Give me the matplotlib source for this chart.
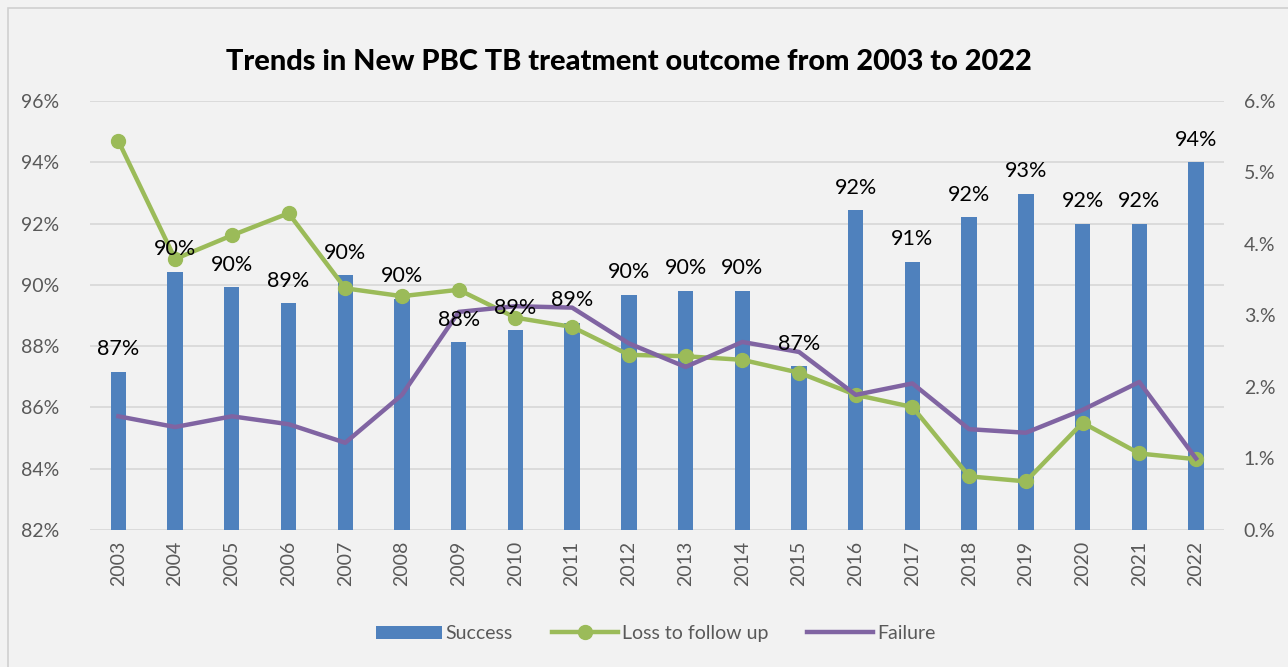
import matplotlib.pyplot as plt
from matplotlib.patches import Rectangle

# data
years = [str(y) for y in range(2003, 2023)]
success = [87.17, 90.42, 89.92, 89.40, 90.32, 89.55, 88.13, 88.52, 88.77, 89.67,
           89.81, 89.81, 87.35, 92.43, 90.75, 92.21, 92.98, 92.0, 92.0, 94.0]
success_labels = ['87%', '90%', '90%', '89%', '90%', '90%', '88%', '89%', '89%', '90%',
                  '90%', '90%', '87%', '92%', '91%', '92%', '93%', '92%', '92%', '94%']
loss_follow_up = [5.44, 3.79, 4.12, 4.43, 3.38, 3.27, 3.36, 2.97, 2.84, 2.45,
                  2.43, 2.38, 2.20, 1.89, 1.72, 0.75, 0.68, 1.50, 1.07, 0.99]
failure = [1.59, 1.44, 1.59, 1.48, 1.22, 1.89, 3.05, 3.13, 3.11, 2.61,
           2.28, 2.63, 2.49, 1.89, 2.05, 1.41, 1.36, 1.68, 2.07, 1.00]
left_ticks = [82, 84, 86, 88, 90, 92, 94, 96]
right_ticks = [0, 1, 2, 3, 4, 5, 6]
right_tick_labels = ['0.%', '1.%', '2.%', '3.%', '4.%', '5.%', '6.%']

plt.rcParams['font.family'] = ['Lato', 'DejaVu Sans']

fig = plt.figure(figsize=(12.88, 6.67), dpi=100, facecolor='#F2F2F2')
fig.patches.append(Rectangle((8 / 1288, -0.01), 1.1, (667 - 8) / 667 + 0.01,
                             transform=fig.transFigure, fill=False,
                             edgecolor='#D0D0D0', linewidth=1.2))

ax = fig.add_axes([0.0699, 0.2054, 0.8807, 0.6432])
ax.set_facecolor('#F2F2F2')
x = list(range(len(years)))

ax.bar(x, [s - 82 for s in success], bottom=82, width=0.27, color='#4F81BD',
       label='Success', zorder=2)
ax.set_ylim(82, 96)
ax.set_xlim(-0.5, len(years) - 0.5)
ax.set_yticks(left_ticks)
ax.set_yticklabels([f'{t}%' for t in left_ticks])
ax.grid(axis='y', color='#D9D9D9', linewidth=1.3, zorder=0)
ax.set_axisbelow(True)
ax.set_xticks(x)
ax.set_xticklabels(years, rotation=90)
for s in ax.spines.values():
    s.set_visible(False)
ax.tick_params(length=0, labelsize=14, labelcolor='#595959')
ax.tick_params(axis='y', pad=22)
ax.tick_params(axis='x', pad=8)

ax2 = ax.twinx()
ax2.plot(x, loss_follow_up, color='#9BBB59', linewidth=3.2, marker='o',
         markersize=10, label='Loss to follow up', zorder=3)
ax2.plot(x, failure, color='#8064A2', linewidth=3.2, label='Failure', zorder=3)
ax2.set_ylim(0, 6)
ax2.set_yticks(right_ticks)
ax2.set_yticklabels(right_tick_labels)
for s in ax2.spines.values():
    s.set_visible(False)
ax2.tick_params(length=0, labelsize=14, labelcolor='#595959', pad=14)

# success labels drawn on top of the lines
for xi, s, lab in zip(x, success, success_labels):
    ax2.annotate(lab, xy=(xi, s), xycoords=ax.transData, xytext=(0, 9),
                 textcoords='offset points', ha='center', va='bottom',
                 fontsize=15.5, color='black', zorder=5)

fig.text(0.488, 0.907, 'Trends in New PBC TB treatment outcome from 2003 to 2022',
         ha='center', va='center', fontsize=20.8, fontweight='black')

h1, l1 = ax.get_legend_handles_labels()
h2, l2 = ax2.get_legend_handles_labels()
fig.legend(h1 + h2, l1 + l2, loc='center', bbox_to_anchor=(0.509, 0.05), ncol=3,
           frameon=False, fontsize=14, labelcolor='#595959', handlelength=3.4,
           columnspacing=2.0, handletextpad=0.2)

fig.savefig('out.png', dpi=100, facecolor=fig.get_facecolor())
